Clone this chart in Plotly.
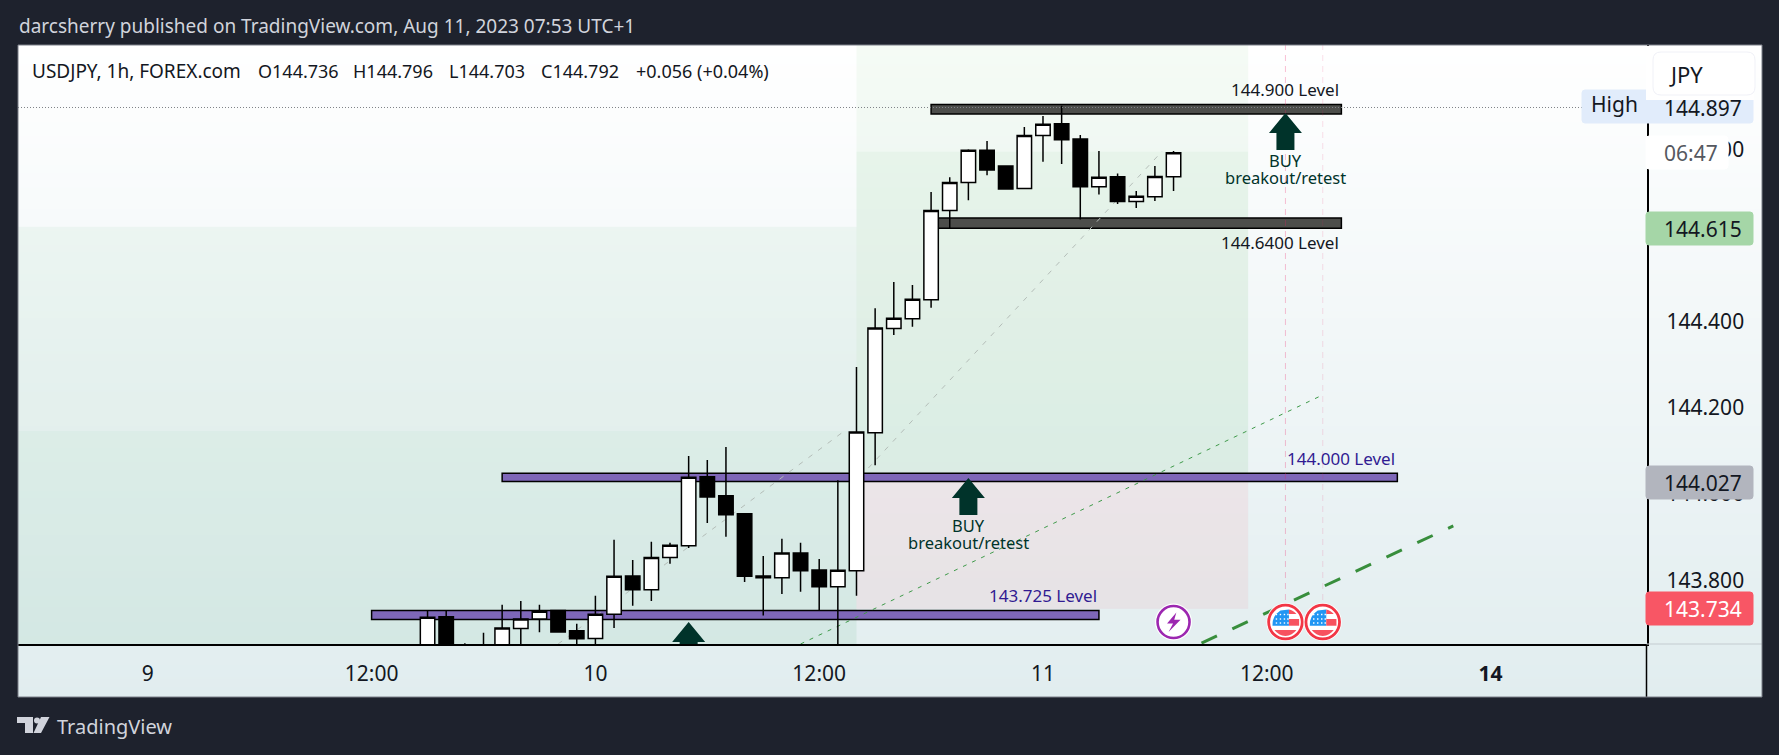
import plotly.graph_objects as go

# hours counted from Aug 9 00:00, weekend gap left out
candle_hours = list(range(15, 56))
opens = [143.600, 143.715, 143.620, 143.600, 143.620, 143.688, 143.710, 143.730, 143.683, 143.665,
         143.721, 143.810, 143.778, 143.853, 143.880, 144.040, 143.996, 143.954, 143.810, 143.806,
         143.863, 143.824, 143.785, 143.822, 144.142, 144.384, 144.407, 144.451, 144.658, 144.723,
         144.798, 144.761, 144.709, 144.832, 144.859, 144.824, 144.713, 144.736, 144.679, 144.690, 144.736]
highs = [143.729, 143.729, 143.654, 143.678, 143.743, 143.752, 143.743, 143.730, 143.699, 143.764,
         143.894, 143.847, 143.889, 143.887, 144.088, 144.079, 144.109, 143.955, 143.856, 143.896,
         143.887, 143.849, 144.032, 144.295, 144.431, 144.492, 144.485, 144.701, 144.735, 144.800,
         144.819, 144.761, 144.852, 144.877, 144.901, 144.833, 144.796, 144.744, 144.703, 144.761, 144.796]
lows = [143.580, 143.580, 143.580, 143.580, 143.600, 143.640, 143.679, 143.680, 143.640, 143.640,
        143.689, 143.741, 143.752, 143.838, 143.875, 143.933, 143.901, 143.796, 143.718, 143.768,
        143.773, 143.730, 143.630, 143.764, 144.067, 144.369, 144.388, 144.432, 144.617, 144.682,
        144.740, 144.708, 144.709, 144.771, 144.766, 144.637, 144.695, 144.673, 144.664, 144.680, 144.703]
closes = [143.714, 143.600, 143.600, 143.640, 143.689, 143.710, 143.728, 143.680, 143.664, 143.721,
          143.809, 143.778, 143.853, 143.881, 144.039, 143.993, 143.952, 143.809, 143.806, 143.863,
          143.822, 143.785, 143.823, 144.144, 144.385, 144.408, 144.452, 144.658, 144.723, 144.798,
          144.752, 144.708, 144.832, 144.858, 144.822, 144.713, 144.735, 144.679, 144.691, 144.737, 144.792]

x_tick_hours = [0, 12, 24, 36, 48, 60, 72]
x_tick_labels = ['9', '12:00', '10', '12:00', '11', '12:00', '<b>14</b>']
y_ticks = [143.8, 144.0, 144.2, 144.4, 144.6, 144.8]

# level bars: first hour, last hour, low price, high price
dark_levels = [(42, 64, 144.882, 144.904), (42, 64, 144.617, 144.6405)]
purple_levels = [(19, 67, 144.029, 144.048), (12, 51, 143.709, 143.730)]
level_labels = [('144.900 Level', 64, 144.904, '#131722'), ('144.6400 Level', 64, 144.617, '#131722'),
                ('144.000 Level', 67, 144.048, '#311b92'), ('143.725 Level', 51, 143.730, '#311b92')]

# shaded zones: first hour, last hour, low price, high price, colour
zones = [(-10, 38, 144.146, 144.620, 'rgba(60,170,100,0.06)'),
         (-10, 38, 143.60, 144.146, 'rgba(60,170,100,0.09)'),
         (38, 59, 144.794, 145.10, 'rgba(90,190,80,0.06)'),
         (38, 59, 144.028, 144.794, 'rgba(70,180,80,0.10)'),
         (38, 59, 143.734, 144.028, 'rgba(240,150,160,0.14)')]

grey_lines = [((22, 37.4), (143.652, 144.148)), ((38.2, 54.4), (144.040, 144.796))]
thin_green = ((35, 63), (143.652, 144.230))
thick_green = ((56.5, 70), (143.654, 143.926))

buy_hours = [61, 44, 29]
buy_tips = [144.884, 144.037, 143.703]
event_hours = [61, 63]
bolt_hour = 55
icon_price = 143.703
high_price = 144.897

PANEL_L, PANEL_R, PANEL_T, PANEL_B = 18, 1762, 45, 697
AXIS_X, AXIS_Y = 1646.5, 644
FONT = 'Noto Sans'
PRICE_SIZE = 21


def px(x):
    return (x - PANEL_L) / (PANEL_R - PANEL_L)


def py(y):
    return (PANEL_B - y) / (PANEL_B - PANEL_T)


def rounded(x0, y0, x1, y1, r=3):
    a, b, c, d = px(x0), px(x1), py(y0), py(y1)
    rx, ry = r / (PANEL_R - PANEL_L), r / (PANEL_B - PANEL_T)
    return (f'M{a + rx},{c} L{b - rx},{c} Q{b},{c} {b},{c - ry} L{b},{d + ry} Q{b},{d} {b - rx},{d} '
            f'L{a + rx},{d} Q{a},{d} {a},{d + ry} L{a},{c - ry} Q{a},{c} {a + rx},{c} Z')


shapes = []
annotations = []


def box(x0, y0, x1, y1, color, r=3, line=None):
    shapes.append(dict(type='path', path=rounded(x0, y0, x1, y1, r), xref='paper', yref='paper', layer='above',
                       fillcolor=color, line=dict(color=line or color, width=1)))


def note(text, x, y, size, color='#131722', anchor='left', **kw):
    annotations.append(dict(text=text, x=px(x), y=py(y), xref='paper', yref='paper', showarrow=False,
                            xanchor=anchor, yanchor='middle', font=dict(family=FONT, size=size, color=color), **kw))


def icon_path(path, hour, color, line=None, width=0):
    shapes.append(dict(type='path', path=path, xref='x2', yref='y2', xsizemode='pixel', ysizemode='pixel',
                       xanchor=hour, yanchor=icon_price, fillcolor=color, layer='above',
                       line=dict(color=line or color, width=width)))


def icon_circle(r, hour, fill, line=None, width=0):
    shapes.append(dict(type='circle', xref='x2', yref='y2', xsizemode='pixel', ysizemode='pixel',
                       xanchor=hour, yanchor=icon_price, x0=-r, x1=r, y0=-r, y1=r, fillcolor=fill, layer='above',
                       line=dict(color=line or fill, width=width)))


# zones and level bars sit under the candles
for h0, h1, p0, p1, color in zones:
    shapes.append(dict(type='rect', xref='x2', yref='y2', x0=h0, x1=h1, y0=p0, y1=p1, fillcolor=color,
                       line=dict(width=0), layer='below'))
for h0, h1, p0, p1 in dark_levels:
    shapes.append(dict(type='rect', xref='x2', yref='y2', x0=h0, x1=h1, y0=p0, y1=p1, fillcolor='#4d4e4b',
                       line=dict(color='#000000', width=1.5), layer='below'))
for h0, h1, p0, p1 in purple_levels:
    shapes.append(dict(type='rect', xref='x2', yref='y2', x0=h0, x1=h1, y0=p0, y1=p1, fillcolor='#7e67b8',
                       line=dict(color='#000000', width=1.5), layer='below'))

shapes.append(dict(type='line', xref='x2', yref='y2', x0=thin_green[0][0], x1=thin_green[0][1],
                   y0=thin_green[1][0], y1=thin_green[1][1], layer='below',
                   line=dict(color='#3f9a4a', width=1, dash='4px,6px')))
shapes.append(dict(type='line', xref='x2', yref='y2', x0=thick_green[0][0], x1=thick_green[0][1],
                   y0=thick_green[1][0], y1=thick_green[1][1], layer='below',
                   line=dict(color='#388e3c', width=3, dash='17px,17px')))
for xs, ys in grey_lines:
    shapes.append(dict(type='line', xref='x2', yref='y2', x0=xs[0], x1=xs[1], y0=ys[0], y1=ys[1], layer='below',
                       line=dict(color='#b4bdb8', width=1, dash='5px,7px')))
for hour, color in zip(event_hours, ['rgba(233,30,99,0.28)', 'rgba(233,30,99,0.14)']):
    shapes.append(dict(type='line', xref='x2', yref='y2', x0=hour, x1=hour, y0=icon_price, y1=145.05, layer='below',
                       line=dict(color=color, width=1, dash='6px,5px')))

# buy arrows
for hour, tip in zip(buy_hours, buy_tips):
    shapes.append(dict(type='path', xref='x2', yref='y2', xsizemode='pixel', ysizemode='pixel', xanchor=hour,
                       yanchor=tip, layer='below', fillcolor='#00332a', line=dict(width=0),
                       path='M0,0 L16.5,-20 L9,-20 L9,-37 L-9,-37 L-9,-20 L-16.5,-20 Z'))
for hour, tip in zip(buy_hours[:2], buy_tips[:2]):
    for text, shift in [('BUY', -47), ('breakout/retest', -64)]:
        annotations.append(dict(text=text, x=hour, y=tip, xref='x2', yref='y2', showarrow=False,
                                yanchor='middle', yshift=shift, font=dict(family=FONT, size=16.5, color='#00332a')))
for text, hour, price, color in level_labels:
    below = price == 144.617
    annotations.append(dict(text=text, x=hour, y=price, xref='x2', yref='y2', showarrow=False, xanchor='right',
                            yanchor='top' if below else 'bottom', yshift=-1 if below else 1,
                            font=dict(family=FONT, size=17, color=color)))

# high dotted line
shapes.append(dict(type='line', xref='paper', yref='y2', x0=0, x1=px(1582), y0=high_price, y1=high_price, layer='above',
                   line=dict(color='#7f8288', width=1, dash='1px,2px')))

# price scale labels
box(1582, 90, 1753, 123, '#e1ecfb')
note('144.897', 1662, 108, PRICE_SIZE)
note('High', 1589, 104, 21)
shapes.append(dict(type='rect', xref='paper', yref='paper', x0=px(1646), x1=px(1754), y0=py(100), y1=py(46),
                   fillcolor='#ffffff', line=dict(width=0), layer='above'))
box(1653, 52, 1755, 95, '#ffffff', r=8, line='#f0f1f7')
note('JPY', 1667, 74, 22)
box(1646, 136, 1728, 169, '#ffffff')
note('06:47', 1662, 153, PRICE_SIZE, color='#555860')
box(1646, 212, 1753, 245, '#a5d6a7')
note('144.615', 1662, 229, PRICE_SIZE)
box(1646, 466, 1753, 499, '#b2b5be')
note('144.027', 1662, 482.5, PRICE_SIZE)
box(1646, 592, 1753, 625, '#f85665')
note('143.734', 1662, 608.5, PRICE_SIZE, color='#ffffff')

# axis stubs and panel border
shapes.append(dict(type='line', xref='paper', yref='paper', x0=px(AXIS_X), x1=px(AXIS_X), y0=py(AXIS_Y), y1=0,
                   line=dict(color='#000000', width=1.5), layer='above'))
shapes.append(dict(type='line', xref='paper', yref='paper', x0=px(AXIS_X), x1=1, y0=py(AXIS_Y), y1=py(AXIS_Y),
                   line=dict(color='#c4ccd0', width=1), layer='above'))
shapes.append(dict(type='rect', xref='paper', yref='paper', x0=0, x1=1, y0=0, y1=1,
                   line=dict(color='#7b7e88', width=1), layer='above'))

# event icons
icon_circle(18.5, bolt_hour, '#ffffff')
icon_circle(16, bolt_hour, '#ffffff', '#9c27b0', 2.6)
icon_path('M2.8,9.5 L-6.5,-1.5 L-0.5,-1.5 L-5,-10 L7,2.2 L0.7,2.2 Z', bolt_hour, '#9c27b0')
for hour in event_hours:
    icon_circle(19, hour, '#ffffff')
    icon_circle(16.8, hour, '#ffffff', '#f23645', 2.8)
    icon_path('M-13,-3.7 Q-13.5,6 -5,11.5 L3.5,12.5 L3.5,-3.7 Z', hour, '#2196f3')
    icon_path('M3.5,12.5 Q7.5,12 11,8 L3.5,8 Z', hour, '#f7525f')
    icon_path('M3.5,3 L13.7,3 L13.7,-3.7 L3.5,-3.7 Z', hour, '#f7525f')
    icon_path('M-11,-8 L11,-8 Q7,-13.5 0,-14 Q-7,-13.5 -11,-8 Z', hour, '#f7525f')
    for row in (7.5, 3, -1):
        for col in (-9, -5, -1, 2.5):
            icon_path(f'M{col - .7},{row - .7} L{col + .7},{row - .7} L{col + .7},{row + .7} L{col - .7},{row + .7} Z',
                      hour, '#ffffff')


# tradingview logo
def logo(points, color='#d1d4dc'):
    d = 'M' + ' L'.join(f'{px(a)},{py(b)}' for a, b in points) + ' Z'
    shapes.append(dict(type='path', path=d, xref='paper', yref='paper', fillcolor=color, line=dict(width=0), layer='above'))


logo([(17, 717), (33, 717), (33, 733), (25, 733), (25, 723), (17, 723)])
logo([(41, 717), (49.5, 717), (41, 733), (33.5, 733)])
shapes.append(dict(type='circle', xref='paper', yref='paper', x0=px(34), x1=px(40), y0=py(717.5), y1=py(723.5),
                   fillcolor='#d1d4dc', line=dict(width=0), layer='above'))

note('TradingView', 55, 726, 20, color='#d1d4dc')
note('darcsherry published on TradingView.com, Aug 11, 2023 07:53 UTC+1', 17, 26, 19, color='#d1d4dc')
note('USDJPY, 1h, FOREX.com', 30, 71, 19)
for text, x in [('O144.736', 256), ('H144.796', 351), ('L144.703', 447), ('C144.792', 539), ('+0.056 (+0.04%)', 634)]:
    note(text, x, 71, 18)

fig = go.Figure()
# white to blue-green wash behind the whole panel
fig.add_trace(go.Heatmap(x=[0, 1], y=[0, 0.72, 1], z=[[0, 0], [0.72, 0.72], [1, 1]], zsmooth='best', showscale=False,
                         colorscale=[[0, '#e1edef'], [1, '#ffffff']], hoverinfo='skip'))
fig.add_trace(go.Candlestick(x=candle_hours, open=opens, high=highs, low=lows, close=closes, xaxis='x2', yaxis='y2',
                             whiskerwidth=0, line=dict(width=1.5),
                             increasing=dict(line=dict(color='#000000', width=1.5), fillcolor='#ffffff'),
                             decreasing=dict(line=dict(color='#000000', width=1.5), fillcolor='#000000')))

fig.update_layout(
    width=1779, height=755, autosize=False, showlegend=False, boxgap=0.12, boxgroupgap=0.12,
    paper_bgcolor='#1e222d', plot_bgcolor='rgba(0,0,0,0)',
    margin=dict(l=PANEL_L, r=1779 - PANEL_R, t=PANEL_T, b=755 - PANEL_B, pad=0),
    font=dict(family=FONT, color='#131722'),
    xaxis=dict(domain=[0, 1], range=[0, 1], visible=False, fixedrange=True),
    yaxis=dict(domain=[0, 1], range=[0, 1], visible=False, fixedrange=True),
    xaxis2=dict(domain=[0, px(AXIS_X)], range=[-6.96, 80.36], anchor='y2', rangeslider=dict(visible=False),
                tickvals=x_tick_hours, ticktext=x_tick_labels, showgrid=False, zeroline=False, showline=True,
                linecolor='#000000', linewidth=1.5, ticks='', ticklabelstandoff=10,
                tickfont=dict(family=FONT, size=21, color='#131722')),
    yaxis2=dict(domain=[py(AXIS_Y), 1], range=[143.652, 145.042], anchor='x2', side='right',
                tickvals=y_ticks, tickformat='.3f', showgrid=False, zeroline=False, showline=True,
                linecolor='#000000', linewidth=1.5, ticks='', ticklabelstandoff=14,
                tickfont=dict(family=FONT, size=PRICE_SIZE, color='#131722')),
    shapes=shapes,
    annotations=annotations,
)

# the page's default body margin would push the figure off its place
fig.write_html('out.html', config=dict(displayModeBar=False),
               post_script="document.body.style.margin='0';document.body.style.background='#1e222d';document.body.style.overflow='hidden';")
